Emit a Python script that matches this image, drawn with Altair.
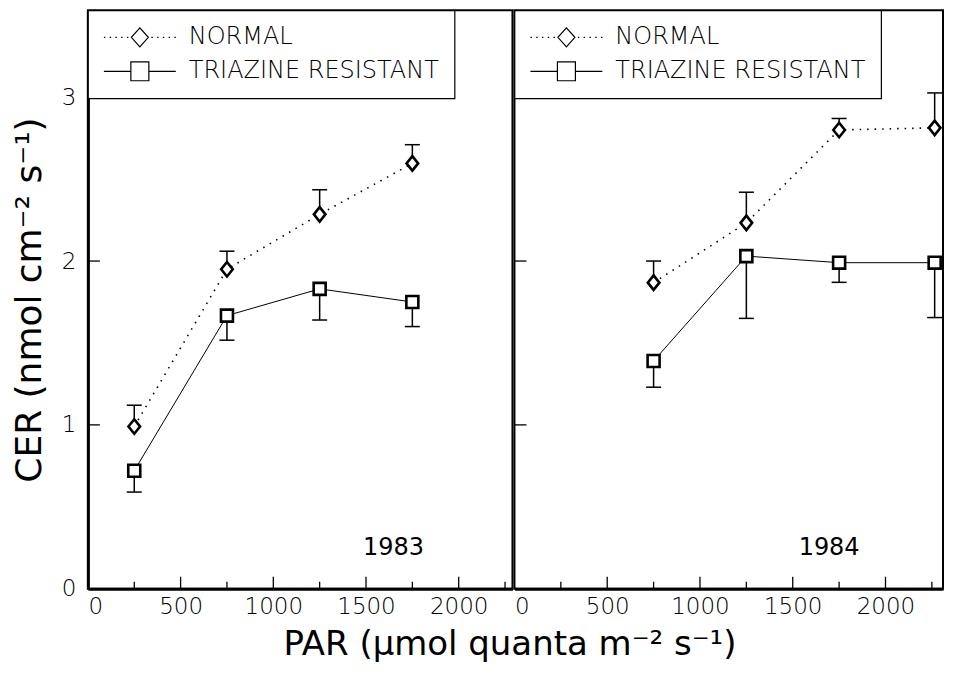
import altair as alt
import pandas as pd

# ---------------- data ----------------
SERIES = ["NORMAL", "TRIAZINE RESISTANT"]

PAR_1983 = [250, 750, 1250, 1750]
NORMAL_1983 = [0.99, 1.95, 2.285, 2.596]
NORMAL_1983_BAR = [1.12, 2.06, 2.435, 2.71]
TRIAZ_1983 = [0.72, 1.667, 1.83, 1.75]
TRIAZ_1983_BAR = [0.59, 1.517, 1.64, 1.60]

PAR_1984 = [750, 1250, 1750, 2265]
NORMAL_1984 = [1.868, 2.233, 2.80, 2.813]
NORMAL_1984_BAR = [2.0, 2.42, 2.87, 3.026]
TRIAZ_1984 = [1.39, 2.03, 1.99, 1.99]
TRIAZ_1984_BAR = [1.23, 1.65, 1.87, 1.655]

X_LABELS = [0, 500, 1000, 1500, 2000]
X_MAJOR = [500, 1000, 1500, 2000]
X_MINOR = [250, 750, 1250, 1750, 2250]
Y_LABELS = [0, 1, 2, 3]
Y_TICKS = [1, 2, 3]
YEARS = ["1983", "1984"]

Y_TITLE = "CER (nmol cm\u207b\u00b2 s\u207b\u00b9)"
X_TITLE = "PAR (\u00b5mol quanta m\u207b\u00b2 s\u207b\u00b9)"

FONT = "DejaVu Sans"
H = 579

# legend symbols: line (dotted / solid) through a hollow marker
def _dots(start, stop, step):
    out = []
    v = start
    while v <= stop + 1e-9:
        out.append("M%.3f,0h0.04" % v)
        v += step
    return "".join(out)

LEG_NORMAL = (_dots(-1.0, -0.36, 0.16)
              + "M0,-0.264L0.236,0L0,0.264L-0.236,0Z"
              + _dots(0.32, 0.96, 0.16))
LEG_TRIAZ = ("M-1,0L-0.25,0"
             "M-0.25,-0.264L0.25,-0.264L0.25,0.264L-0.25,0.264Z"
             "M0.25,0L1,0")
DIAMOND = "M0,-1L0.8,0L0,1L-0.8,0Z"


def make_df(par, n, nbar, t, tbar):
    return pd.DataFrame({
        "series": [SERIES[0]] * len(par) + [SERIES[1]] * len(par),
        "PAR": list(par) + list(par),
        "CER": list(n) + list(t),
        "bar": list(nbar) + list(tbar),
    })


def panel(df, year, xmax, width, first, year_px):
    xs = alt.Scale(domain=[0, xmax], nice=False, zero=False)
    ys = alt.Scale(domain=[0, 3.53], nice=False)
    if first:
        xaxis = alt.Axis(values=X_LABELS, format="d", tickSize=0, labelPadding=7,
                         title=X_TITLE, titleX=422, titleY=66,
                         titleAlign="center", titleBaseline="alphabetic",
                         titleFontSize=34, titleFontWeight="normal",
                         titleFont=FONT, titleColor="black")
        yaxis = alt.Axis(values=Y_LABELS, format="d", tickSize=0, labelPadding=12,
                         title=Y_TITLE, titleFontSize=36, titlePadding=13,
                         titleFontWeight="normal", titleFont=FONT,
                         titleColor="black")
    else:
        xaxis = alt.Axis(values=X_LABELS, format="d", tickSize=0, labelPadding=7,
                         title=None)
        yaxis = None

    base = alt.Chart(df)
    X = alt.X("PAR:Q", scale=xs, axis=xaxis)
    Y = alt.Y("CER:Q", scale=ys, axis=yaxis)

    bars = base.mark_rule(color="black", strokeWidth=1.5).encode(
        x=X, y=Y, y2="bar:Q")
    caps = base.mark_tick(orient="horizontal", size=15, thickness=1.5,
                          color="black", opacity=1).encode(
        x=X, y=alt.Y("bar:Q", scale=ys, axis=yaxis))
    normal = base.transform_filter(alt.datum.series == SERIES[0])
    triaz = base.transform_filter(alt.datum.series == SERIES[1])
    line_n = normal.mark_line(color="black", strokeWidth=1.6,
                              strokeDash=[1.5, 6]).encode(x=X, y=Y)
    line_t = triaz.mark_line(color="black", strokeWidth=1).encode(x=X, y=Y)
    pts_n = normal.mark_point(shape=DIAMOND, size=210, fill="white",
                              stroke="black", strokeWidth=2.6, opacity=1,
                              fillOpacity=1).encode(x=X, y=Y)
    pts_t = triaz.mark_point(shape="square", size=144, fill="white",
                             stroke="black", strokeWidth=2.6, opacity=1,
                             fillOpacity=1).encode(x=X, y=Y)
    leg = base.mark_point(opacity=0, filled=False, color="black",
                          strokeWidth=1.2).encode(
        x=X, y=Y,
        shape=alt.Shape("series:N",
                        scale=alt.Scale(domain=SERIES,
                                        range=[LEG_NORMAL, LEG_TRIAZ]),
                        legend=alt.Legend(title=None, orient="top-left",
                                          offset=0, padding=15,
                                          strokeColor="black",
                                          fillColor="white",
                                          labelFont=FONT, labelFontSize=24,
                                          labelFontWeight=200,
                                          labelColor="black",
                                          labelOffset=12, labelLimit=500,
                                          symbolSize=5184,
                                          symbolStrokeWidth=1.2,
                                          symbolStrokeColor="black",
                                          symbolOpacity=1,
                                          clipHeight=24,
                                          rowPadding=10)))
    xmaj = alt.Chart(pd.DataFrame({"v": X_MAJOR})).mark_rule(
        color="black", strokeWidth=1.3).encode(
        x=alt.X("v:Q", scale=xs, axis=xaxis), y=alt.value(H), y2=alt.value(H - 12))
    xmin = alt.Chart(pd.DataFrame({"v": X_MINOR})).mark_rule(
        color="black", strokeWidth=1.3).encode(
        x=alt.X("v:Q", scale=xs, axis=xaxis), y=alt.value(H), y2=alt.value(H - 7))
    yt = alt.Chart(pd.DataFrame({"v": Y_TICKS})).mark_rule(
        color="black", strokeWidth=1.3).encode(
        y=alt.Y("v:Q", scale=ys, axis=yaxis), x=alt.value(0), x2=alt.value(12))
    txt = alt.Chart(pd.DataFrame({"year": [year]})).mark_text(
        font=FONT, fontSize=24, color="black", align="center",
        baseline="middle").encode(
        text="year:N", x=alt.value(year_px[0]), y=alt.value(year_px[1]))

    return alt.layer(bars, caps, line_n, line_t, pts_n, pts_t, leg,
                     xmaj, xmin, yt, txt).properties(width=width, height=H)


left = panel(make_df(PAR_1983, NORMAL_1983, NORMAL_1983_BAR, TRIAZ_1983, TRIAZ_1983_BAR),
             YEARS[0], 2290, 425, True, (306, 538))
right = panel(make_df(PAR_1984, NORMAL_1984, NORMAL_1984_BAR, TRIAZ_1984, TRIAZ_1984_BAR),
              YEARS[1], 2310, 429, False, (315, 538))

chart = alt.hconcat(left, right, spacing=2, bounds="flush").resolve_legend(
    shape="independent"
).properties(
    padding={"left": 2, "top": 0, "right": 0, "bottom": 0},
    background="white"
).configure_view(
    stroke="black", strokeWidth=2
).configure_axis(
    labelFont=FONT, labelFontSize=23, labelFontWeight=200, labelColor="black",
    domainColor="black", domainWidth=3, grid=False
).configure_legend(
    strokeWidth=1.2
)

chart.save("out.html", embed_options={"renderer": "svg", "actions": False})
